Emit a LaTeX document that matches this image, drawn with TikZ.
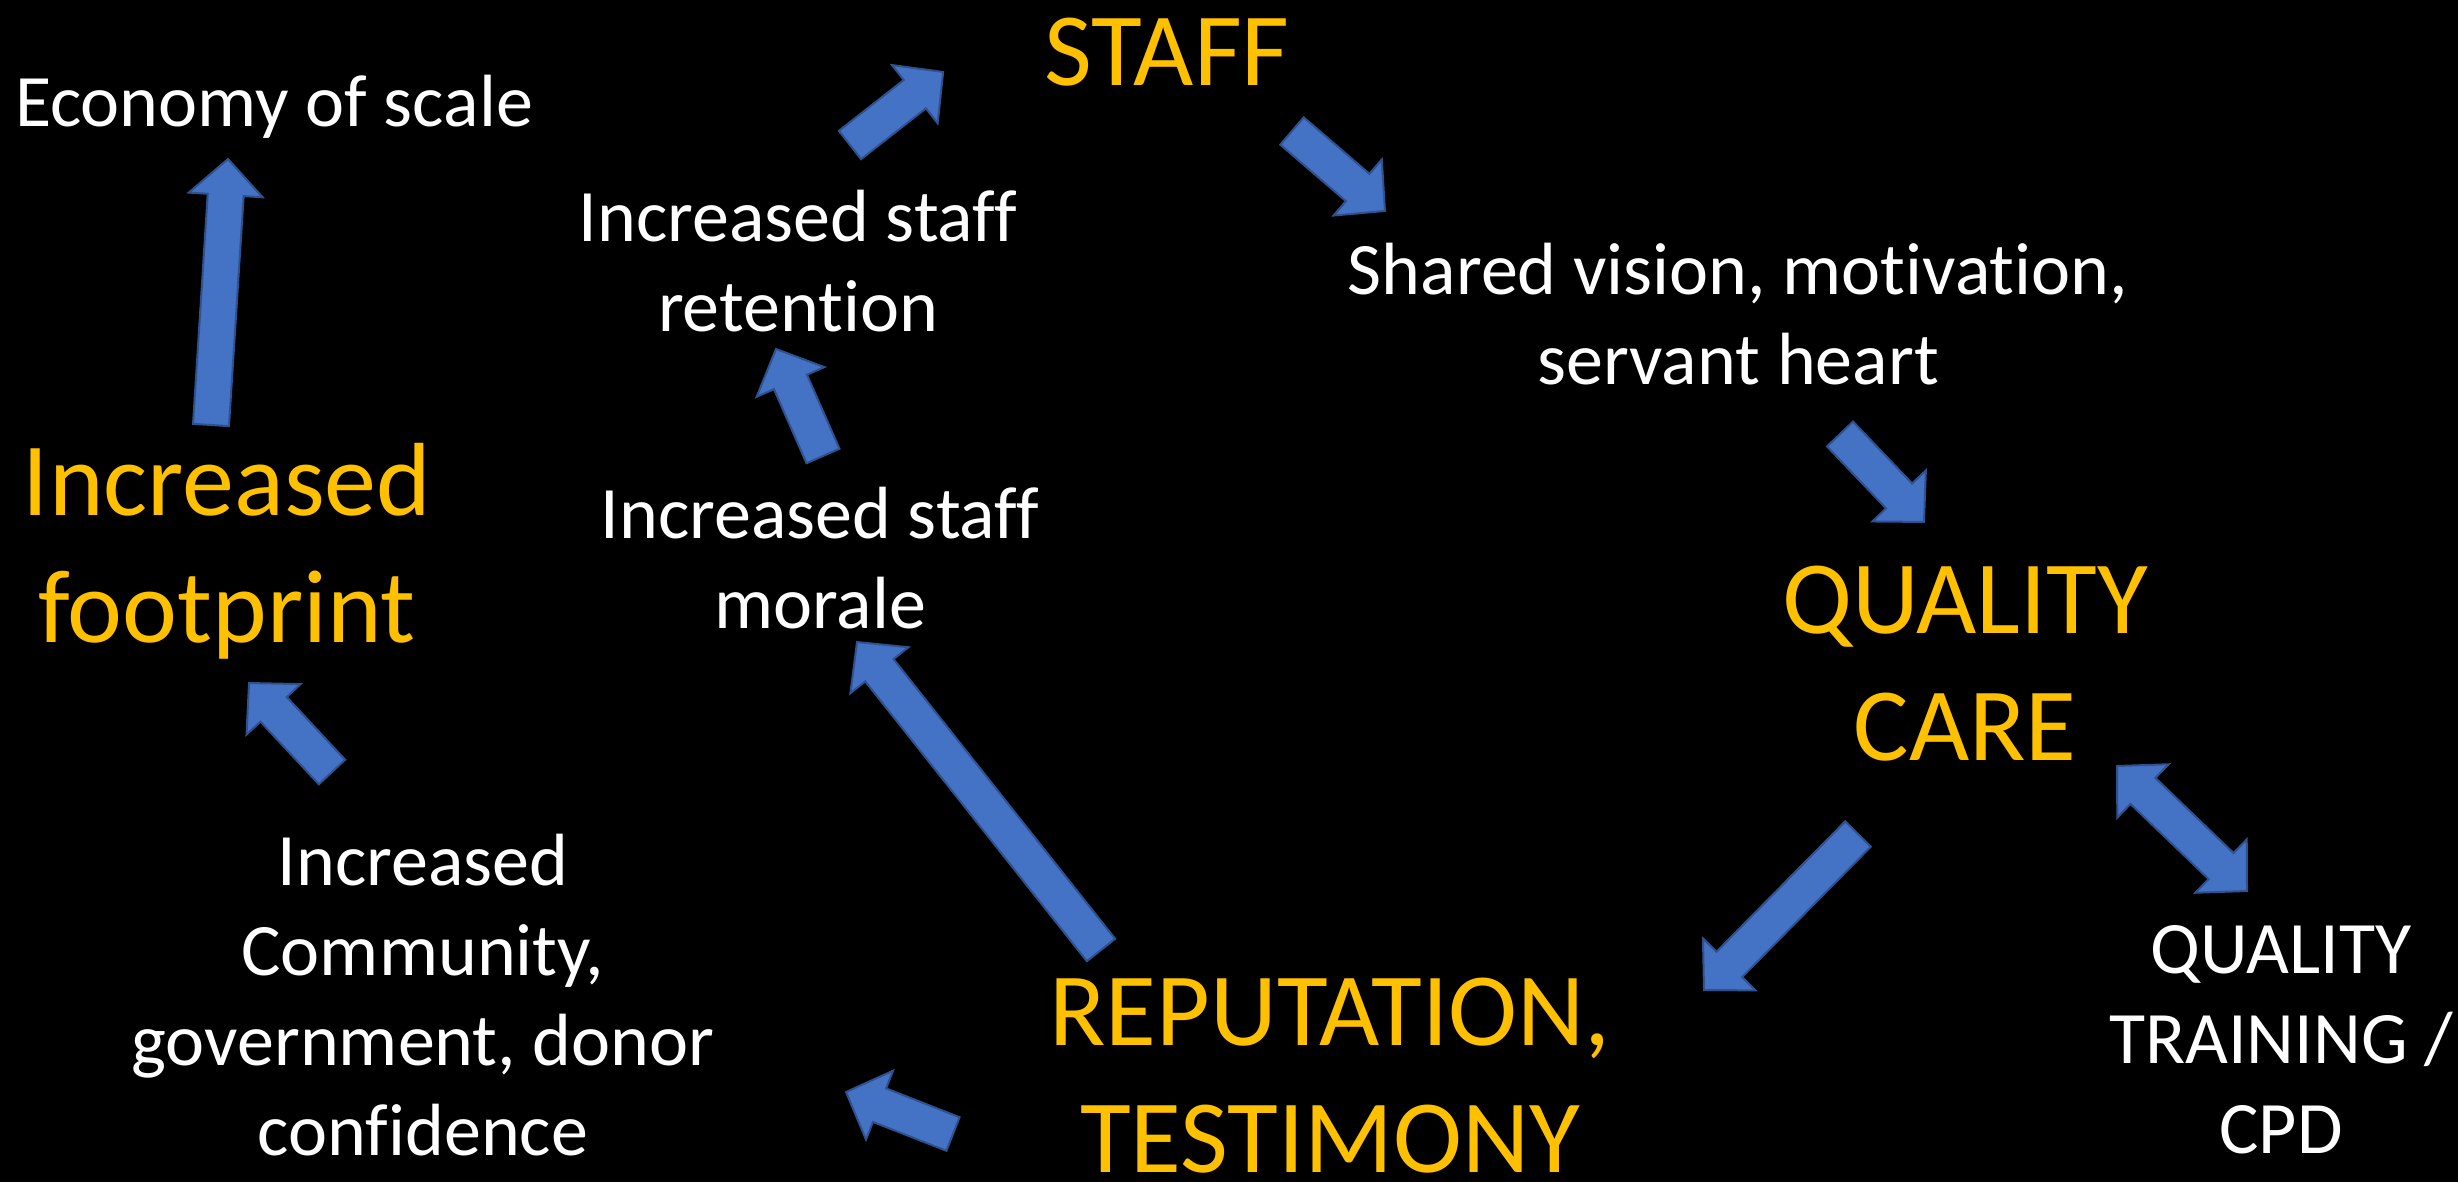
\documentclass[tikz,border=0pt]{standalone}
\usepackage{fontspec}
\setmainfont{Carlito}[Ligatures={NoCommon}]
\usetikzlibrary{calc}
\definecolor{arrowblue}{HTML}{4472C4}
\definecolor{arrowedge}{HTML}{2F528F}
\definecolor{gold}{HTML}{FFC000}

\newcommand\mlines[1]{\vtop{\halign{\hfil##\hfil\cr#1\crcr}}}

\newcommand\blockarrow[2]{%
  \pgfpointdiff{\pgfpointanchor{#1}{center}}{\pgfpointanchor{#2}{center}}%
  \pgfgetlastxy{\baDX}{\baDY}%
  \pgfmathsetmacro\baAng{atan2(\baDY,\baDX)}%
  \pgfmathsetmacro\baLen{veclen(\baDX,\baDY)}%
  \begin{scope}[shift={(#1)},rotate=\baAng]
    \filldraw[blockarr] (0,-18) -- ({\baLen-36},-18) -- ({\baLen-36},-37) -- (\baLen,0)
      -- ({\baLen-36},37) -- ({\baLen-36},18) -- (0,18) -- cycle;
  \end{scope}}

\newcommand\dblblockarrow[2]{%
  \pgfpointdiff{\pgfpointanchor{#1}{center}}{\pgfpointanchor{#2}{center}}%
  \pgfgetlastxy{\baDX}{\baDY}%
  \pgfmathsetmacro\baAng{atan2(\baDY,\baDX)}%
  \pgfmathsetmacro\baLen{veclen(\baDX,\baDY)}%
  \begin{scope}[shift={(#1)},rotate=\baAng]
    \filldraw[blockarr] (0,0) -- (36,-37) -- (36,-18) -- ({\baLen-36},-18) -- ({\baLen-36},-37)
      -- (\baLen,0) -- ({\baLen-36},37) -- ({\baLen-36},18) -- (36,18) -- (36,37) -- cycle;
  \end{scope}}

\begin{document}
\begin{tikzpicture}[x=1pt,y=-1pt,
  blockarr/.style={fill=arrowblue,draw=arrowedge,line width=2pt,line join=miter},
  whitetxt/.style={text=white,font=\fontsize{74}{90}\selectfont,inner sep=0pt,anchor=base},
  goldtxt/.style={text=gold,font=\fontsize{104}{127}\selectfont,inner sep=0pt,anchor=base}]
\fill[black] (0,0) rectangle (2458,1182);
\useasboundingbox (0,0) rectangle (2458,1182);

% texts
\node[goldtxt] (staff) at (1167,86) {STAFF};
\node[whitetxt] (econ) at (274,127) {Economy of scale};
\node[whitetxt] (retention) at (798,242) {\mlines{Increased staff\cr retention}};
\node[whitetxt] (vision) at (1738,295) {\mlines{Shared vision, motivation,\cr servant heart}};
\node[goldtxt] (footprint) at (227,515) {\mlines{Increased\cr footprint}};
\node[whitetxt] (morale) at (820,538) {\mlines{Increased staff\cr morale}};
\node[goldtxt] (care) at (1965,633) {\mlines{QUALITY\cr CARE}};
\node[whitetxt] (community) at (423,885) {\mlines{Increased\cr Community,\cr government, donor\cr confidence}};
\node[goldtxt] (reputation) at (1330,1045) {\mlines{REPUTATION,\cr TESTIMONY}};
\node[whitetxt] (training) at (2281,973) {\mlines{QUALITY\cr TRAINING /\cr CPD}};

% arrow end points
\coordinate (a1s) at (211,425);    \coordinate (a1e) at (228,159);
\coordinate (a2s) at (823,456);    \coordinate (a2e) at (776,349);
\coordinate (a3s) at (850,145);    \coordinate (a3e) at (943.5,71.7);
\coordinate (a4s) at (1292,131);   \coordinate (a4e) at (1385,211);
\coordinate (a5s) at (1840,434);   \coordinate (a5e) at (1924,522);
\coordinate (a6s) at (1858,834);   \coordinate (a6e) at (1704,990);
\coordinate (a7s) at (2117,766);   \coordinate (a7e) at (2247,891);
\coordinate (a8s) at (1101,950);   \coordinate (a8e) at (857,642);
\coordinate (a9s) at (953,1134);   \coordinate (a9e) at (846,1092);
\coordinate (a10s) at (332,772);   \coordinate (a10e) at (249,683);

\blockarrow{a1s}{a1e}
\blockarrow{a2s}{a2e}
\blockarrow{a3s}{a3e}
\blockarrow{a4s}{a4e}
\blockarrow{a5s}{a5e}
\blockarrow{a6s}{a6e}
\dblblockarrow{a7s}{a7e}
\blockarrow{a8s}{a8e}
\blockarrow{a9s}{a9e}
\blockarrow{a10s}{a10e}
\end{tikzpicture}
\end{document}
